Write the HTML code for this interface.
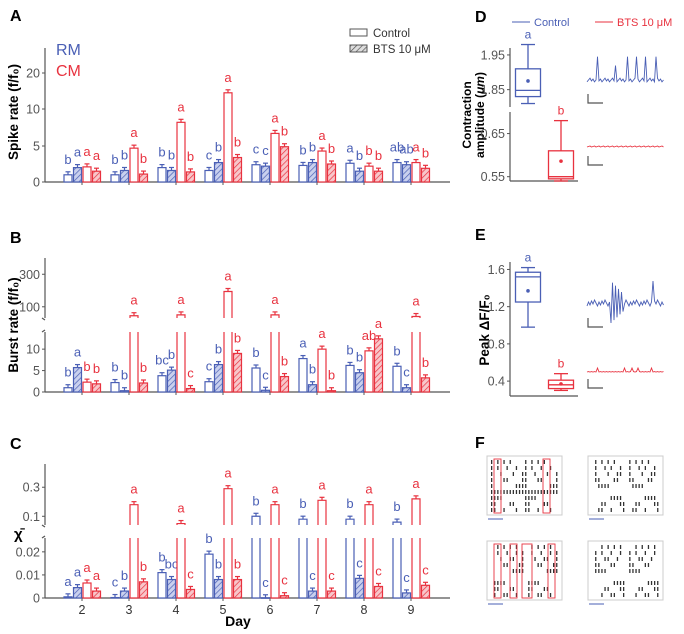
<!DOCTYPE html>
<html><head><meta charset="utf-8"><style>
html,body{margin:0;padding:0;background:#fff}
svg{display:block;font-family:"Liberation Sans",Arial,sans-serif}
</style></head><body>
<svg id="fig" width="684" height="634" viewBox="0 0 684 634" xmlns="http://www.w3.org/2000/svg">
<defs>
<pattern id="hb" width="4" height="4" patternUnits="userSpaceOnUse" patternTransform="rotate(45)"><rect width="4" height="4" fill="#c9d0ee"/><line x1="0" y1="0" x2="0" y2="4" stroke="#4a5fb5" stroke-width="1.4"/></pattern>
<pattern id="hr" width="4" height="4" patternUnits="userSpaceOnUse" patternTransform="rotate(45)"><rect width="4" height="4" fill="#f8c6ca"/><line x1="0" y1="0" x2="0" y2="4" stroke="#e8323f" stroke-width="1.4"/></pattern>
<pattern id="hg" width="4" height="4" patternUnits="userSpaceOnUse" patternTransform="rotate(45)"><rect width="4" height="4" fill="#ddd"/><line x1="0" y1="0" x2="0" y2="4" stroke="#555" stroke-width="1.4"/></pattern>
</defs>
<g id="static">
<text x="10" y="21" font-size="16" font-weight="bold">A</text>
<text x="10" y="243" font-size="16" font-weight="bold">B</text>
<text x="10" y="449" font-size="16" font-weight="bold">C</text>
<text x="475" y="22" font-size="16" font-weight="bold">D</text>
<text x="475" y="240" font-size="16" font-weight="bold">E</text>
<text x="475" y="448" font-size="16" font-weight="bold">F</text>
<text x="56" y="55" font-size="16" fill="#4a5fb5">RM</text>
<text x="56" y="76" font-size="16" fill="#e8323f">CM</text>
<g><rect x="350" y="29" width="17" height="7" fill="#fff" stroke="#555"/><text x="373" y="37" font-size="11.5" fill="#333">Control</text></g>
<g><rect x="350" y="45" width="17" height="7" fill="url(#hg)" stroke="#555"/><text x="373" y="53" font-size="11.5" fill="#333">BTS 10 μM</text></g>
<text transform="translate(18,112) rotate(-90)" text-anchor="middle" font-size="13.5" font-weight="bold">Spike rate (f/f₀)</text>
<text transform="translate(18,325) rotate(-90)" text-anchor="middle" font-size="13.5" font-weight="bold">Burst rate (f/f₀)</text>
<text x="14" y="539" font-size="15" font-weight="bold">χ̄</text>
<text x="238" y="626" text-anchor="middle" font-size="14" font-weight="bold">Day</text>
<g><line x1="512" y1="22" x2="530" y2="22" stroke="#4a5fb5"/><text x="534" y="26" font-size="11" fill="#4a5fb5">Control</text></g>
<g><line x1="595" y1="22" x2="613" y2="22" stroke="#e8323f"/><text x="617" y="26" font-size="11" fill="#e8323f">BTS 10 μM</text></g>
<text transform="translate(471,115) rotate(-90)" text-anchor="middle" font-size="12" font-weight="bold">Contraction</text>
<text transform="translate(484,115) rotate(-90)" text-anchor="middle" font-size="12" font-weight="bold">amplitude (<tspan font-style="italic">μm</tspan>)</text>
<text transform="translate(489,330) rotate(-90)" text-anchor="middle" font-size="13.5" font-weight="bold">Peak ΔF/F₀</text>
</g>
</svg>
<script>
const NS='http://www.w3.org/2000/svg';
const svg=document.getElementById('fig');
const BLUE='#4a5fb5',RED='#e8323f',AX='#555';
function mk(t,a,p){const e=document.createElementNS(NS,t);for(const k in a)e.setAttribute(k,a[k]);(p||svg).appendChild(e);return e;}

const days=['2','3','4','5','6','7','8','9'];
// Panel A: spike rate — order per day: RM ctrl, RM BTS, CM ctrl, CM BTS
const spikeRM=[1.0,1.0,2.0,1.6,2.4,2.3,2.6,2.7];
const spikeRMbts=[2.0,1.6,1.6,2.7,2.2,2.7,1.5,2.4];
const spikeCM=[2.1,4.7,8.2,14.5,6.7,4.3,2.2,2.7];
const spikeCMbts=[1.5,1.1,1.4,3.4,4.9,2.5,1.5,1.9];
const spikeLetters=[['b','a','a','a'],['b','b','a','b'],['b','b','a','b'],['c','b','a','b'],['c','c','a','b'],['b','b','a','b'],['a','b','b','b'],['ab','ab','a','b']];
const spikeTicks=[0,5,10,20];
// Panel B: burst rate
const burstRM=[1,2.2,3.8,2.4,5.6,7.8,6.2,6.0];
const burstRMbts=[5.7,0.3,5.1,6.4,0.4,1.7,4.5,1.0];
const burstCM=[2.3,45,50,194,50,10,9.6,40];
const burstCMbts=[1.9,2.1,0.8,9,3.6,0.3,12.4,3.3];
const burstLetters=[['b','a','b','b'],['b','b','a','b'],['bc','b','a','c'],['c','b','a','b'],['b','c','a','b'],['a','b','a','b'],['b','b','ab','a'],['b','c','a','b']];
const burstTicks=[0,5,10,100,300];
// Panel C: chi
const chiRM=[0.0005,0.0002,0.011,0.019,0.1,0.08,0.08,0.06];
const chiRMbts=[0.0045,0.003,0.008,0.008,0.0001,0.003,0.0085,0.0022];
const chiCM=[0.0065,0.18,0.05,0.29,0.18,0.21,0.18,0.22];
const chiCMbts=[0.003,0.007,0.0037,0.008,0.001,0.003,0.005,0.0055];
const chiLetters=[['a','a','a','a'],['c','b','a','b'],['b','bc','a','c'],['b','b','a','b'],['b','c','a','c'],['b','c','a','c'],['b','c','a','c'],['b','c','a','c']];
const chiTicks=[0,0.01,0.02,0.1,0.3];
const chiTickLabels=['0','0.01','0.02','0.1','0.3'];

const x0=82,dx=47,offs=[-14,-4.5,5,14.5],bw=8;
function xs(i,j){return x0+i*dx+offs[j];}

function panel(o){
  const segs=o.segs;
  function y(v){for(const s of segs){if(v<=s.d1||s===segs[segs.length-1])return s.y0-(v-s.d0)/(s.d1-s.d0)*(s.y0-s.y1);}}
  function yIn(s,v){return s.y0-(v-s.d0)/(s.d1-s.d0)*(s.y0-s.y1);}
  const g=mk('g',{});
  
  
  if(o.broken){
    segs.forEach((s,k)=>{const a=mk('line',{x1:45,x2:45,y1:s.y0,y2:s.y1,stroke:AX,'stroke-width':1.2},g);
      
      mk('line',{x1:42,x2:45,y1:k?s.y0:s.y1,y2:k?s.y0+2:s.y1-2,stroke:AX,'stroke-width':1.2},g);});
  } else {
    const a=mk('line',{x1:45,x2:45,y1:o.axTop,y2:segs[0].y0,stroke:AX,'stroke-width':1.2},g);
    
  }
  const xa=mk('line',{x1:45,x2:450,y1:segs[0].y0,y2:segs[0].y0,stroke:AX,'stroke-width':1.2},g);
  
  days.forEach((d,i)=>{mk('line',{x1:x0+i*dx,x2:x0+i*dx,y1:segs[0].y0,y2:segs[0].y0+3,stroke:AX},g);
    if(o.dayLabels){const t=mk('text',{x:x0+i*dx,y:segs[0].y0+16,'text-anchor':'middle','font-size':12.5,fill:'#333'},g);t.textContent=d;
      }});
  o.ticks.forEach((v,k)=>{const yy=y(v);mk('line',{x1:42,x2:45,y1:yy,y2:yy,stroke:AX},g);
    const t=mk('text',{x:40,y:yy+4.5,'text-anchor':'end','font-size':12.5,fill:'#555'},g);t.textContent=o.tickLabels?o.tickLabels[k]:v;
    });
  const series=[o.s[0],o.s[1],o.s[2],o.s[3]];
  const cols=[BLUE,BLUE,RED,RED],fills=['#fff','url(#hb)','#fff','url(#hr)'];
  days.forEach((d,i)=>{
    for(let j=0;j<4;j++){
      const v=series[j][i],x=xs(i,j)-bw/2,base=segs[0].y0;
      let top;
      if(o.broken&&v>segs[0].d1){
        const s0=segs[0],s1=segs[1];
        const p=mk('path',{d:`M${x},${s0.y1} L${x},${base} L${x+bw},${base} L${x+bw},${s0.y1}`,fill:fills[j],stroke:cols[j],'stroke-width':1.2},g);
        
        top=yIn(s1,Math.max(v,s1.d0));
        const r=mk('path',{d:`M${x},${s1.y0} L${x},${top} L${x+bw},${top} L${x+bw},${s1.y0}`,fill:fills[j],stroke:cols[j],'stroke-width':1.2},g);
        
      } else {
        top=y(v);
        const r=mk('rect',{x:x,y:top,width:bw,height:Math.max(0.5,base-top),fill:fills[j],stroke:cols[j],'stroke-width':1.2},g);
        
      }
      mk('line',{x1:x+bw/2,x2:x+bw/2,y1:top,y2:top-3,stroke:cols[j],'stroke-width':1.2},g);
      mk('line',{x1:x+1.5,x2:x+bw-1.5,y1:top-3,y2:top-3,stroke:cols[j],'stroke-width':1.2},g);
      const t=mk('text',{x:x+bw/2,y:top-11,'text-anchor':'middle','font-size':13,fill:cols[j]},g);
      t.textContent=o.letters[i][j];
      
    }
  });
}
panel({name:'spike-rate-chart',segs:[{d0:0,d1:5,y0:182,y1:146},{d0:5,d1:10,y0:146,y1:109},{d0:10,d1:20,y0:109,y1:73},{d0:20,d1:25,y0:73,y1:55}],axTop:48,
  ticks:spikeTicks,s:[spikeRM,spikeRMbts,spikeCM,spikeCMbts],letters:spikeLetters});
panel({name:'burst-rate-chart',broken:true,segs:[{d0:0,d1:14,y0:392,y1:332},{d0:31,d1:400,y0:318,y1:258}],
  ticks:burstTicks,s:[burstRM,burstRMbts,burstCM,burstCMbts],letters:burstLetters});
panel({name:'chi-chart',broken:true,dayLabels:true,segs:[{d0:0,d1:0.026,y0:598,y1:538},{d0:0.04,d1:0.46,y0:525,y1:464}],
  ticks:chiTicks,tickLabels:chiTickLabels,s:[chiRM,chiRMbts,chiCM,chiCMbts],letters:chiLetters});

// Box plots D/E: [whiskerLow, q1, median, q3, whiskerHigh, mean]
const ampCtrl=[1.81,1.83,1.848,1.91,1.98,1.875];
const ampBts=[0.54,0.545,0.55,0.61,0.68,0.586];
const peakCtrl=[0.98,1.25,1.52,1.57,1.62,1.37];
const peakBts=[0.3,0.32,0.36,0.41,0.48,0.37];
function boxAxis(name,segs,ticks,xEnd,groups,dec){
  const g=mk('g',{});
  
  
  const y=v=>{for(const s of segs){if(v>=s.d0&&v<=s.d1)return s.y0-(v-s.d0)/(s.d1-s.d0)*(s.y0-s.y1);}const s=v<segs[0].d0?segs[0]:segs[segs.length-1];return s.y0-(v-s.d0)/(s.d1-s.d0)*(s.y0-s.y1);};
  segs.forEach(s=>{const a=mk('line',{x1:510,x2:510,y1:s.y0,y2:s.y1,stroke:AX,'stroke-width':1.2},g);});
  const xa=mk('line',{x1:510,x2:xEnd,y1:segs[0].y0,y2:segs[0].y0,stroke:AX,'stroke-width':1.2},g);
  
  ticks.forEach(v=>{const yy=y(v);mk('line',{x1:507,x2:510,y1:yy,y2:yy,stroke:AX},g);
    const t=mk('text',{x:505,y:yy+4.5,'text-anchor':'end','font-size':12.5,fill:'#555'},g);t.textContent=v.toFixed(dec);
    });
  groups.forEach(gr=>{
    const [lo,q1,md,q3,hi,mn]=gr.d,c=gr.c,cx=gr.x,w=25;
    const b=mk('g',{},g);
    mk('line',{x1:cx,x2:cx,y1:y(hi),y2:y(q3),stroke:c,'stroke-width':1.3},b);
    mk('line',{x1:cx,x2:cx,y1:y(q1),y2:y(lo),stroke:c,'stroke-width':1.3},b);
    mk('line',{x1:cx-7,x2:cx+7,y1:y(hi),y2:y(hi),stroke:c,'stroke-width':1.3},b);
    mk('line',{x1:cx-7,x2:cx+7,y1:y(lo),y2:y(lo),stroke:c,'stroke-width':1.3},b);
    mk('rect',{x:cx-w/2,y:y(q3),width:w,height:y(q1)-y(q3),fill:'none',stroke:c,'stroke-width':1.3},b);
    mk('line',{x1:cx-w/2,x2:cx+w/2,y1:y(md),y2:y(md),stroke:c,'stroke-width':1.3},b);
    mk('circle',{cx:cx,cy:y(mn),r:1.8,fill:c},b);
    const t=mk('text',{x:cx,y:y(hi)-6,'text-anchor':'middle','font-size':12,fill:c},b);t.textContent=gr.l;
    
  });
}
boxAxis('contraction-amplitude-chart',[{d0:0.54,d1:0.70,y0:181,y1:112},{d0:1.80,d1:1.97,y0:107,y1:48}],[0.55,0.65,1.85,1.95],578,
  [{name:'box-control',d:ampCtrl,c:BLUE,x:528,l:'a'},{name:'box-bts',d:ampBts,c:RED,x:561,l:'b'}],2);
boxAxis('peak-df-chart',[{d0:0.24,d1:1.68,y0:396,y1:262}],[0.4,0.8,1.2,1.6],578,
  [{name:'box-control',d:peakCtrl,c:BLUE,x:528,l:'a'},{name:'box-bts',d:peakBts,c:RED,x:561,l:'b'}],1);

function trace(name,x,yb,pts,c){let d='';pts.forEach((p,k)=>{d+=(k?'L':'M')+(x+k*1.5).toFixed(1)+','+(yb-p).toFixed(1);});
  const e=mk('path',{d:d,fill:'none',stroke:c,'stroke-width':0.9});}
const dPts=[];for(let k=0;k<52;k++){let v=(k*7%5)-2;if([7,27,33,39,46].includes(k))v=26;if(k==19)v=16;dPts.push(v*0.9+2);} trace('trace-d-control',587,82,dPts,BLUE);
const dR=[];for(let k=0;k<52;k++)dR.push((k%3)*0.5);trace('trace-d-bts',587,147,dR,RED);
const eP=[];for(let k=0;k<52;k++){let v=((k*11)%7)-3;if(k>=16&&k<=24)v=(k%2?22:-20)*(1-(k-16)/14);if(k==44)v=22;eP.push(v);} trace('trace-e-control',587,303,eP,BLUE);
const eR=[];for(let k=0;k<52;k++)eR.push([7,25,30,34,43].includes(k)?4:(k%2)*0.4);trace('trace-e-bts',587,372,eR,RED);
[[588,94],[588,156],[588,318],[588,379]].forEach(([x,y])=>{const e=mk('path',{d:`M${x},${y} L${x},${y+9} L${x+15},${y+9}`,fill:'none',stroke:'#555','stroke-width':1.2});
  });

[[487,456,true],[588,456,false],[487,541,true],[588,541,false]].forEach(([bx,by,hl],n)=>{
  const g=mk('g',{});
  mk('rect',{x:bx,y:by,width:75,height:59,fill:'#fff',stroke:'#ccc'},g);
  for(let r=0;r<9;r++){for(let k=0;k<22;k++){if(((k*17+r*11+n*5+k*r)%11)<4){mk('rect',{x:bx+4+k*3.1,y:by+4+r*6,width:1.3,height:4,fill:'#333'},g);}}}
  mk('line',{x1:bx+1,x2:bx+16,y1:by+63,y2:by+63,stroke:BLUE,'stroke-width':1},g);
  if(hl){(n==0?[[8],[57]]:[[8],[24],[36,44],[62]]).forEach(a=>{const w=a.length>1?a[1]-a[0]:5;mk('rect',{x:bx+a[0]-1,y:by+3,width:w+2,height:54,fill:'none',stroke:RED,'stroke-width':0.9},g);});}
});
</script>
</body></html>
